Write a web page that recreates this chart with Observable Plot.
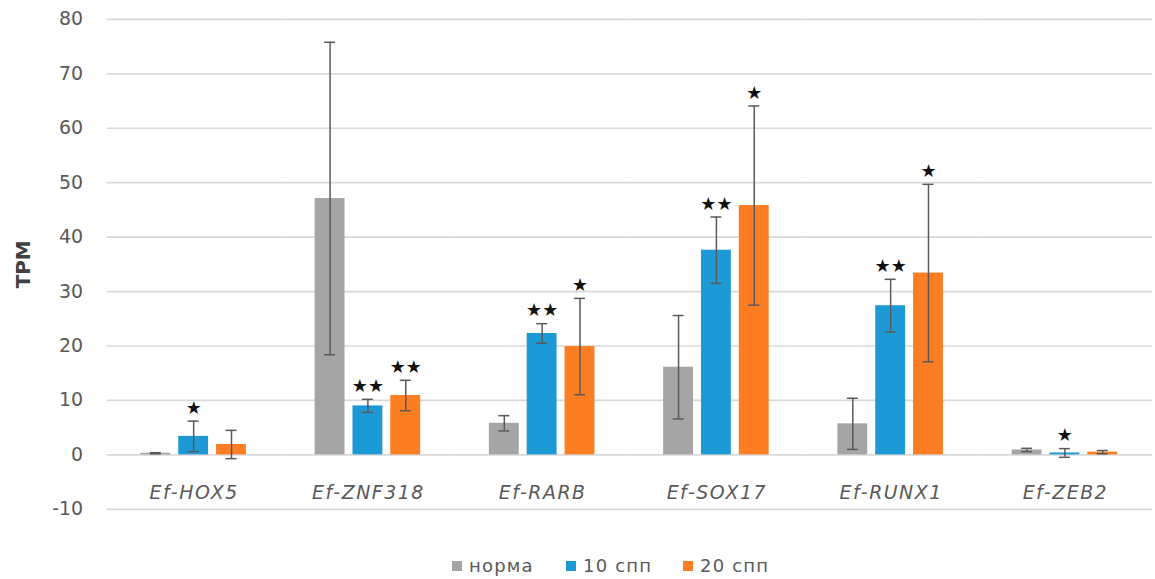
<!DOCTYPE html>
<html>
<head>
<meta charset="utf-8">
<script src="https://cdn.jsdelivr.net/npm/d3@7"></script>
<script src="https://cdn.jsdelivr.net/npm/@observablehq/plot@0.6"></script>
<style>
  html, body { margin: 0; padding: 0; background: #fff; overflow: hidden; }
  #chart { position: relative; width: 1155px; height: 579px; }
  #chart svg { display: block; }
  [aria-label="y-axis label"] text { font-weight: bold; font-size: 20px; fill: #404040; }
  [aria-label="fx-axis tick label"] text { letter-spacing: 1.5px; }
  .legend { position: absolute; top: 556px; left: 0; width: 100%; height: 20px;
            font: 18px "DejaVu Sans", sans-serif; color: #595959; letter-spacing: 1.2px; }
  .legend span { position: absolute; display: inline-flex; align-items: center; line-height: 20px; }
  .legend i { display: inline-block; width: 10px; height: 10px; margin-right: 7px; }
</style>
</head>
<body>
<div id="chart"></div>
<script>
// Gene names and sample groups
const genes = ["Ef-HOX5", "Ef-ZNF318", "Ef-RARB", "Ef-SOX17", "Ef-RUNX1", "Ef-ZEB2"];
const series = ["норма", "10 спп", "20 спп"];
const colors = ["#a5a5a5", "#1d9ad6", "#fd7d22"];

// Mean TPM per gene for each group
const norma = [0.3, 47.1, 5.8, 16.1, 5.7, 0.9];
const spp10 = [3.4, 9.0, 22.3, 37.6, 27.4, 0.35];
const spp20 = [1.9, 10.9, 19.9, 45.8, 33.4, 0.5];

// Error bar half-lengths
const normaErr = [0.1, 28.7, 1.4, 9.5, 4.7, 0.3];
const spp10Err = [2.8, 1.2, 1.8, 6.1, 4.85, 0.8];
const spp20Err = [2.6, 2.8, 8.85, 18.3, 16.3, 0.3];

// Significance marks
const normaSig = ["", "", "", "", "", ""];
const spp10Sig = ["★", "★★", "★★", "★★", "★★", "★"];
const spp20Sig = ["", "★★", "★", "★", "★", ""];

const yTicks = [-10, 0, 10, 20, 30, 40, 50, 60, 70, 80];

const values = [norma, spp10, spp20];
const errs = [normaErr, spp10Err, spp20Err];
const sigs = [normaSig, spp10Sig, spp20Sig];

const rows = genes.flatMap((gene, i) => series.map((s, j) => ({
  gene, series: s,
  value: values[j][i],
  lo: values[j][i] - errs[j][i],
  hi: values[j][i] + errs[j][i],
  sig: sigs[j][i]
})));

const chart = Plot.plot({
  width: 1160,
  height: 540,
  marginLeft: 104,
  marginRight: 1,
  marginTop: 19,
  marginBottom: 29,
  style: {fontFamily: "'DejaVu Sans', sans-serif", background: "#fff"},
  fx: {domain: genes, padding: 0, label: null},
  x: {domain: series, paddingInner: 0.205, paddingOuter: 0.855, axis: null},
  y: {domain: [-10, 80]},
  color: {domain: series, range: colors},
  marks: [
    Plot.gridY(yTicks, {stroke: "#d9d9d9", strokeOpacity: 1, strokeWidth: 1.7}),
    Plot.axisY(yTicks, {
      tickSize: 0, tickPadding: 24, fontSize: 19, fill: "#595959",
      tickFormat: d => String(d),
      label: "TPM", labelAnchor: "center", labelArrow: "none", labelOffset: 92
    }),
    Plot.axisFx({anchor: "bottom", tickSize: 0, fontSize: 19, fontStyle: "italic",
                 fill: "#595959", dy: -33, label: null}),
    Plot.barY(rows, {fx: "gene", x: "series", y: "value", fill: "series"}),
    Plot.ruleX(rows, {fx: "gene", x: "series", y1: "lo", y2: "hi",
                      stroke: "#595959", strokeWidth: 1.5}),
    Plot.tickY(rows, {fx: "gene", x: "series", y: "hi", insetLeft: 9.5, insetRight: 9.5,
                      stroke: "#595959", strokeWidth: 1.5}),
    Plot.tickY(rows, {fx: "gene", x: "series", y: "lo", insetLeft: 9.5, insetRight: 9.5,
                      stroke: "#595959", strokeWidth: 1.5}),
    Plot.text(rows.filter(d => d.sig), {fx: "gene", x: "series", y: "hi", text: "sig",
                      dy: -13, fontSize: 18, fill: "#111", fontFamily: "DejaVu Sans"})
  ]
});

const host = document.getElementById("chart");
host.append(chart);

// Legend below the plot
const legendX = [452, 566, 683];
const legend = document.createElement("div");
legend.className = "legend";
series.forEach((s, j) => {
  const item = document.createElement("span");
  item.style.left = legendX[j] + "px";
  const sw = document.createElement("i");
  sw.style.background = colors[j];
  item.append(sw, s);
  legend.append(item);
});
host.append(legend);
</script>
</body>
</html>
